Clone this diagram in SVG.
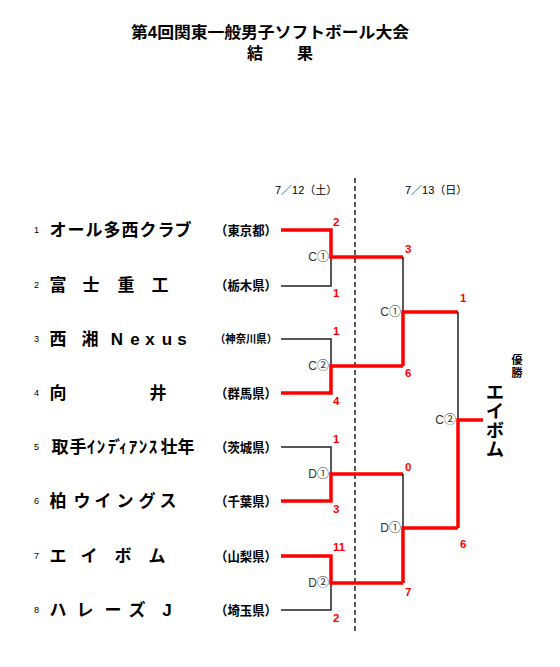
<svg xmlns="http://www.w3.org/2000/svg" width="560" height="667" viewBox="0 0 560 667">
<style>
text { font-family: "Liberation Sans", "Noto Sans CJK JP", sans-serif; fill:#000; }
.title { font-size:16px; font-weight:bold; }
.num { font-size:9px; }
.name { font-size:17px; font-weight:bold; text-anchor:middle; }
.pref { font-size:13px; font-weight:bold; }
.score { font-size:11.5px; font-weight:bold; fill:#ff0000; }
.lbl { font-size:12px; fill:#333; text-anchor:end; }
.date { font-size:11px; }
.win { stroke:#ff0000; stroke-width:3.5; fill:none; }
.lose { stroke:#222; stroke-width:1.5; fill:none; }
.div { stroke:#222; stroke-width:1.5; stroke-dasharray:5 3; fill:none; }
</style>
<g id="title">
<text class="title" x="270" y="38" text-anchor="middle" textLength="278" lengthAdjust="spacingAndGlyphs">第4回関東一般男子ソフトボール大会</text>
<text class="title" x="255 305" y="59" text-anchor="middle">結果</text>
</g>
<g id="dates">
<text class="date" x="275" y="194">7／12（土）</text>
<text class="date" x="405" y="194">7／13（日）</text>
</g>
<g id="team1"><text class="num" x="34" y="233">1</text><text class="name" x="58 76 94 112 130 148 166 183" y="236">オール多西クラブ</text><text class="pref" x="215" y="235" textLength="62" lengthAdjust="spacingAndGlyphs">（東京都）</text></g>
<g id="team2"><text class="num" x="34" y="288">2</text><text class="name" x="58 91 126 160" y="291">富士重工</text><text class="pref" x="215" y="290" textLength="62" lengthAdjust="spacingAndGlyphs">（栃木県）</text></g>
<g id="team3"><text class="num" x="34" y="342">3</text><text class="name" x="58 90 117 135 150 167 182" y="345">西湘Nexus</text><text class="pref" x="215" y="343" style="font-size:11px" textLength="62" lengthAdjust="spacingAndGlyphs">（神奈川県）</text></g>
<g id="team4"><text class="num" x="34" y="396">4</text><text class="name" x="58 158" y="399">向井</text><text class="pref" x="215" y="398" textLength="62" lengthAdjust="spacingAndGlyphs">（群馬県）</text></g>
<g id="team5"><text class="num" x="34" y="450">5</text><text class="name" x="60 78 91 101 112 119 123 133 143 153 169 186" y="453">取手ｲﾝﾃﾞｨｱﾝｽ壮年</text><text class="pref" x="215" y="452" textLength="62" lengthAdjust="spacingAndGlyphs">（茨城県）</text></g>
<g id="team6"><text class="num" x="34" y="504">6</text><text class="name" x="58 82 103 125 147 168" y="507">柏ウイングス</text><text class="pref" x="215" y="506" textLength="62" lengthAdjust="spacingAndGlyphs">（千葉県）</text></g>
<g id="team7"><text class="num" x="34" y="559">7</text><text class="name" x="58 89 123 157" y="562">エイボム</text><text class="pref" x="215" y="561" textLength="62" lengthAdjust="spacingAndGlyphs">（山梨県）</text></g>
<g id="team8"><text class="num" x="34" y="613">8</text><text class="name" x="58 85 113 137 167" y="616">ハレーズJ</text><text class="pref" x="215" y="615" textLength="62" lengthAdjust="spacingAndGlyphs">（埼玉県）</text></g>
<g id="connectors">
<path class="div" d="M355,178 V632"/>
<path class="lose" d="M281,286 H331 V257"/>
<path class="win" d="M281,230 H331 V257 H403"/>
<path class="lose" d="M281,339 H331 V366"/>
<path class="win" d="M281,393 H331 V366 H403"/>
<path class="lose" d="M281,447 H331 V474"/>
<path class="win" d="M281,501 H331 V474 H403"/>
<path class="lose" d="M281,610 H331 V583"/>
<path class="win" d="M281,556 H331 V583 H403"/>
<path class="lose" d="M403,257 V312"/>
<path class="win" d="M403,366 V312 H458"/>
<path class="lose" d="M403,474 V528"/>
<path class="win" d="M403,583 V528 H458"/>
<path class="lose" d="M458,312 V420"/>
<path class="win" d="M458,528 V420 H483"/>
</g>
<g id="matchC1r1"><text class="lbl" x="329" y="261">C①</text><text class="score" x="333" y="226">2</text><text class="score" x="333" y="297">1</text></g>
<g id="matchC2r1"><text class="lbl" x="329" y="370">C②</text><text class="score" x="333" y="335">1</text><text class="score" x="333" y="405">4</text></g>
<g id="matchD1r1"><text class="lbl" x="329" y="478">D①</text><text class="score" x="333" y="443">1</text><text class="score" x="333" y="513">3</text></g>
<g id="matchD2r1"><text class="lbl" x="329" y="587">D②</text><text class="score" x="333" y="551">11</text><text class="score" x="333" y="622">2</text></g>
<g id="matchC1r2"><text class="lbl" x="401" y="316">C①</text><text class="score" x="405" y="253">3</text><text class="score" x="405" y="377">6</text></g>
<g id="matchD1r2"><text class="lbl" x="401" y="532">D①</text><text class="score" x="405" y="471">0</text><text class="score" x="405" y="596">7</text></g>
<g id="final"><text class="lbl" x="456" y="424">C②</text><text class="score" x="460" y="302">1</text><text class="score" x="460" y="548">6</text></g>
<g id="champion">
<text x="517" y="364" text-anchor="middle" style="font-size:11px;font-weight:bold">優</text>
<text x="517" y="377" text-anchor="middle" style="font-size:11px;font-weight:bold">勝</text>
<text x="495 495 495 495" y="399 418 437 456" text-anchor="middle" style="font-size:18px;font-weight:bold">エイボム</text>
</g>
</svg>
